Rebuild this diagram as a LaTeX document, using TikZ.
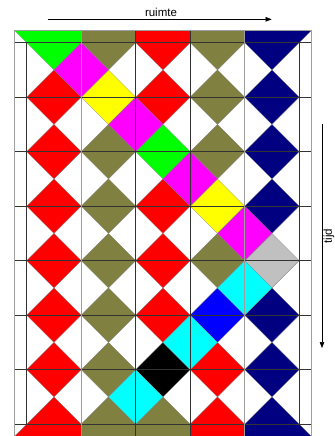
\documentclass[tikz,border=0pt]{standalone}
\usepackage{fontspec}
\setmainfont{Liberation Sans}
\usetikzlibrary{arrows.meta}
\definecolor{CellRed}{HTML}{FF0000}
\definecolor{CellOlive}{HTML}{808040}
\definecolor{CellNavy}{HTML}{000080}
\definecolor{CellGreen}{HTML}{00FF00}
\definecolor{CellYellow}{HTML}{FFFF00}
\definecolor{CellMagenta}{HTML}{FF00FF}
\definecolor{CellCyan}{HTML}{00FFFF}
\definecolor{CellBlue}{HTML}{0000FF}
\definecolor{CellSilver}{HTML}{C0C0C0}
\tikzset{>={Triangle[length=6pt,width=4.5pt]},
 every node/.style={font=\fontsize{11.5}{13}\selectfont}}

\begin{document}
\begin{tikzpicture}[x=54.5pt,y=54.5pt,
 cell/.style={draw=black!50,line width=0.3pt},
 darkline/.style={draw=black!80,line width=0.5pt},
 lightline/.style={draw=black!38,line width=0.9pt}]
\useasboundingbox (-0.49,0.7835) rectangle (5.6385,-7.2165);
\def\m{0.225}
% Half rows at top and bottom: one colour per column.
\foreach \c/\d [count=\i from 0] in {CellGreen/CellRed,CellOlive/CellOlive,
 CellRed/CellOlive,CellOlive/CellRed,CellNavy/CellNavy}
 {\pgfmathsetmacro\xl{\i==0 ? -\m : \i}
  \pgfmathsetmacro\xr{\i==4 ? 5+\m : \i+1}
  \filldraw[cell,fill=\c] (\xl,\m)--(\xr,\m)--(\i+1,0)--(\i+.5,-.5)--(\i,0)--cycle;
  \filldraw[cell,fill=\d] (\xl,-7-\m)--(\xr,-7-\m)--(\i+1,-7)--(\i+.5,-6.5)--(\i,-7)--cycle;}
% Diamonds centred on the horizontal lines.
\foreach \row [count=\j from 1] in {
 {CellRed,CellYellow,CellRed,CellOlive,CellNavy},
 {CellRed,CellOlive,CellGreen,CellOlive,CellNavy},
 {CellRed,CellOlive,CellRed,CellYellow,CellNavy},
 {CellRed,CellOlive,CellRed,CellOlive,CellSilver},
 {CellRed,CellOlive,CellRed,CellBlue,CellNavy},
 {CellRed,CellOlive,black,CellRed,CellNavy}}
 {\foreach \c [count=\i from 0] in \row
   {\filldraw[cell,fill=\c] (\i+.5,-\j+.5)--(\i+1,-\j)--(\i+.5,-\j-.5)--(\i,-\j)--cycle;}}
% The coloured diamonds on the vertical lines.
\foreach \k/\r/\c in {1/0/CellMagenta,2/1/CellMagenta,3/2/CellMagenta,4/3/CellMagenta,
 4/4/CellCyan,3/5/CellCyan,2/6/CellCyan}
 {\filldraw[cell,fill=\c] (\k,-\r)--(\k+.5,-\r-.5)--(\k,-\r-1)--(\k-.5,-\r-.5)--cycle;}
% Grid on top of the fills.
\foreach \j in {0,...,7}
 {\draw[darkline] (-\m,-\j)--(5+\m,-\j);}
\foreach \x in {0,5}
 {\draw[darkline] (\x,0)--(\x,-7);}
\foreach \x in {2,3}
 {\draw[darkline] (\x,\m)--(\x,-7-\m);}
\foreach \x in {1,4}
 {\draw[lightline] (\x,\m)--(\x,-7-\m);}
\draw[lightline] (-\m,-7-\m) rectangle (5+\m,\m);
% Axes.
\coordinate (ruimte-a) at (0.385,0.429);
\coordinate (ruimte-b) at (4.495,0.429);
\draw[->,line width=0.6pt] (ruimte-a)--(ruimte-b);
\node[anchor=base] (ruimte) at (2.464,0.477) {ruimte};
\coordinate (tijd-a) at (5.418,-1.492);
\coordinate (tijd-b) at (5.418,-5.602);
\draw[->,line width=0.6pt] (tijd-a)--(tijd-b);
\node[rotate=90] (tijd) at (5.545,-3.547) {tijd};
\end{tikzpicture}
\end{document}
